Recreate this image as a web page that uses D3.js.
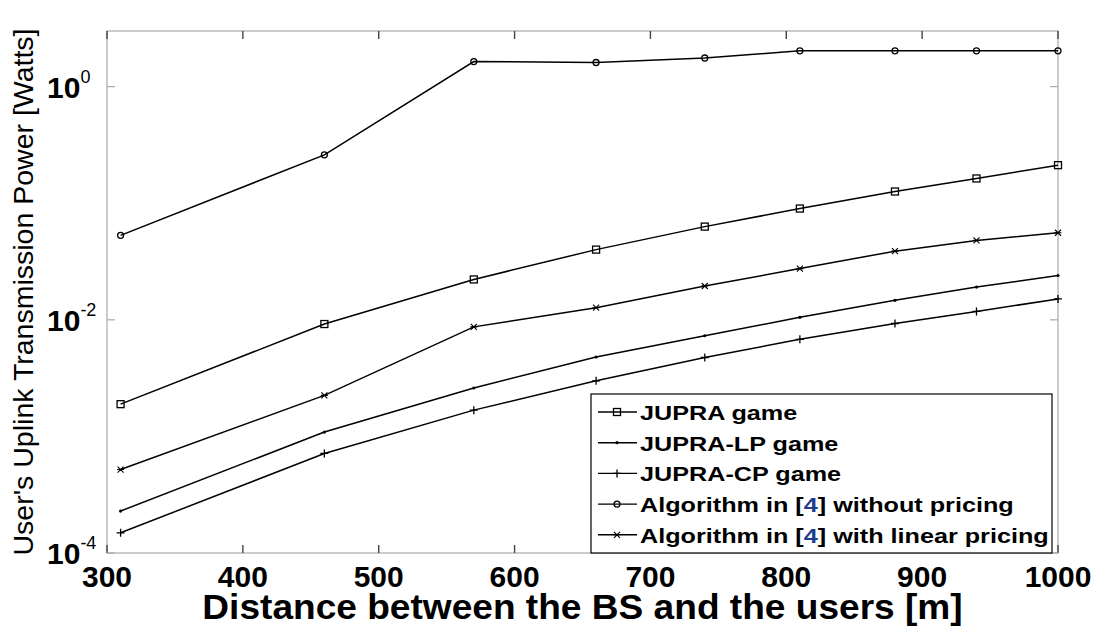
<!DOCTYPE html>
<html>
<head>
<meta charset="utf-8">
<script src="https://cdn.jsdelivr.net/npm/d3@7"></script>
<style>
  body { margin: 0; background: #fff; }
  svg { display: block; font-family: Arial, "Liberation Sans", sans-serif; }
</style>
</head>
<body>
<svg width="1096" height="628"></svg>
<script>
var distances = [310, 460, 570, 660, 740, 810, 880, 940, 1000];

var noPricing     = [0.053, 0.26, 1.64, 1.61, 1.76, 2.03, 2.03, 2.03, 2.03];
var jupra         = [0.00189, 0.0092, 0.0222, 0.040, 0.063, 0.090, 0.126, 0.163, 0.212];
var linearPricing = [0.00052, 0.00225, 0.0087, 0.0127, 0.0195, 0.0275, 0.0388, 0.048, 0.0558];
var jupraLP       = [0.000229, 0.00109, 0.0026, 0.0048, 0.0073, 0.0105, 0.0147, 0.0191, 0.024];
var jupraCP       = [0.000149, 0.000714, 0.00168, 0.0030, 0.00475, 0.0068, 0.0093, 0.0118, 0.0151];

var xTicks = [300, 400, 500, 600, 700, 800, 900, 1000];
var yTicks = [1e-4, 1e-2, 1];

var legendNames = ["JUPRA game", "JUPRA-LP game", "JUPRA-CP game",
  "Algorithm in [4] without pricing", "Algorithm in [4] with linear pricing"];

var series = [
  { name: legendNames[0], values: jupra, marker: "square" },
  { name: legendNames[1], values: jupraLP, marker: "dot" },
  { name: legendNames[2], values: jupraCP, marker: "plus" },
  { name: legendNames[3], values: noPricing, marker: "circle" },
  { name: legendNames[4], values: linearPricing, marker: "star" }
];

var svg = d3.select("svg"),
    pLeft = 107, pRight = 1058, pTop = 31, pBottom = 553;

var x = d3.scaleLinear().domain([300, 1000]).range([pLeft, pRight]);
var y = d3.scaleLog().domain([1e-4, 3]).range([pBottom, pTop]);

// axes box
svg.append("rect")
  .attr("x", pLeft).attr("y", pTop)
  .attr("width", pRight - pLeft).attr("height", pBottom - pTop)
  .attr("fill", "none").attr("stroke", "#aaa").attr("stroke-width", 1.2);

// x ticks, bottom + top
var xt = svg.append("g").attr("stroke", "#444").attr("stroke-width", 1.4);
xTicks.forEach(function (t) {
  xt.append("line").attr("x1", x(t)).attr("x2", x(t)).attr("y1", pBottom).attr("y2", pBottom - 8);
  xt.append("line").attr("x1", x(t)).attr("x2", x(t)).attr("y1", pTop).attr("y2", pTop + 8);
});
var yt = svg.append("g").attr("stroke", "#aaa").attr("stroke-width", 1.2);
yTicks.forEach(function (t) {
  yt.append("line").attr("x1", pLeft).attr("x2", pLeft + 8).attr("y1", y(t)).attr("y2", y(t));
  yt.append("line").attr("x1", pRight).attr("x2", pRight - 8).attr("y1", y(t)).attr("y2", y(t));
});

svg.append("g").selectAll("text").data(xTicks).enter().append("text")
  .attr("x", function (d) { return x(d); })
  .attr("y", pBottom + 34)
  .attr("text-anchor", "middle")
  .style("font-size", "30px").style("font-weight", "bold")
  .text(function (d) { return d; });

var ylab = svg.append("g").selectAll("text").data(yTicks).enter().append("text")
  .attr("x", 47)
  .attr("y", function (d) { return y(d) + 11; })
  .style("font-size", "30px").style("font-weight", "bold");
ylab.append("tspan").text("10");
ylab.append("tspan")
  .attr("dy", -15)
  .style("font-size", "18px").style("font-weight", "normal")
  .text(function (d) { return Math.round(Math.log10(d)); });

// axis titles
svg.append("text")
  .attr("transform", "translate(" + (pLeft + pRight) / 2 + ",619) scale(1.06,1)")
  .attr("text-anchor", "middle")
  .style("font-size", "35px").style("font-weight", "bold")
  .text("Distance between the BS and the users [m]");

svg.append("text")
  .attr("transform", "translate(33," + (pTop + pBottom) / 2 + ") rotate(-90)")
  .attr("text-anchor", "middle")
  .style("font-size", "28.5px")
  .text("User's Uplink Transmission Power [Watts]");

var line = d3.line()
  .x(function (d, i) { return x(distances[i]); })
  .y(function (d) { return y(d); });

function drawMarker (g, type) {
  if (type === "square") {
    g.append("rect").attr("x", -3.5).attr("y", -3.5).attr("width", 7).attr("height", 7)
      .attr("fill", "none").attr("stroke", "#000").attr("stroke-width", 1.3);
  } else if (type === "circle") {
    g.append("circle").attr("r", 3).attr("fill", "none").attr("stroke", "#000").attr("stroke-width", 1.3);
  } else if (type === "dot") {
    g.append("circle").attr("r", 1.6).attr("fill", "#000");
  } else if (type === "plus") {
    g.append("path").attr("d", "M-4,0H4M0,-4V4").attr("stroke", "#000").attr("stroke-width", 1.3);
  } else if (type === "star") {
    g.append("path").attr("d", "M-3,-3L3,3M-3,3L3,-3M-3.5,0H3.5").attr("stroke", "#000").attr("stroke-width", 1.1);
  }
}

var plot = svg.append("g");
series.forEach(function (s) {
  plot.append("path")
    .attr("d", line(s.values))
    .attr("fill", "none").attr("stroke", "#000").attr("stroke-width", 1.5);
  s.values.forEach(function (v, i) {
    var m = plot.append("g").attr("transform", "translate(" + x(distances[i]) + "," + y(v) + ")");
    drawMarker(m, s.marker);
  });
});

// legend
var lx = 591, ly = 394, lw = 461, lh = 159, rowH = 30.7;
var legend = svg.append("g");
legend.append("rect")
  .attr("x", lx).attr("y", ly).attr("width", lw).attr("height", lh)
  .attr("fill", "#fff").attr("stroke", "#000").attr("stroke-width", 1.2);

series.forEach(function (s, i) {
  var cy = ly + 18 + i * rowH;
  legend.append("line").attr("x1", lx + 7).attr("x2", lx + 46).attr("y1", cy).attr("y2", cy)
    .attr("stroke", "#000").attr("stroke-width", 1.4);
  var m = legend.append("g").attr("transform", "translate(" + (lx + 26) + "," + cy + ")");
  drawMarker(m, s.marker);
  var t = legend.append("text")
    .attr("transform", "translate(" + (lx + 49) + "," + (cy + 8) + ") scale(1.2,1)")
    .style("font-size", "21px").style("font-weight", "bold");
  var parts = s.name.split("[4]");
  t.append("tspan").text(parts[0]);
  if (parts.length > 1) {
    t.append("tspan").text("[");
    t.append("tspan").attr("fill", "#1d3d8c").text("4");
    t.append("tspan").text("]" + parts[1]);
  }
});
</script>
</body>
</html>
